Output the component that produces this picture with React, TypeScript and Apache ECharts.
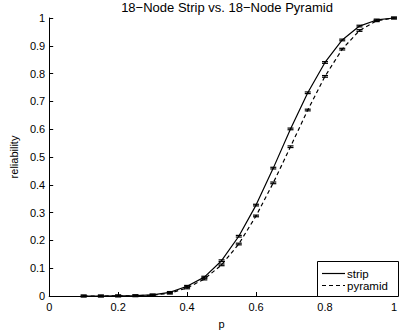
import React, { useEffect, useRef } from "react";
import * as echarts from "echarts";

const pValues = [0.1, 0.15, 0.2, 0.25, 0.3, 0.35, 0.4, 0.45, 0.5, 0.55, 0.6, 0.65, 0.7, 0.75, 0.8, 0.85, 0.9, 0.95, 1.0];
const strip = [0, 0, 0.0005, 0.001, 0.004, 0.013, 0.035, 0.068, 0.127, 0.215, 0.327, 0.46, 0.601, 0.731, 0.84, 0.921, 0.971, 0.993, 1.0];
const pyramid = [0, 0, 0.0003, 0.001, 0.003, 0.01, 0.029, 0.061, 0.112, 0.187, 0.288, 0.407, 0.537, 0.669, 0.79, 0.888, 0.955, 0.99, 1.0];
const errHalf = 0.003;
const titleText = "18\u2212Node Strip vs. 18\u2212Node Pyramid";
const legendNames = ["strip", "pyramid"];

const FONT = "Liberation Sans, Arial, Helvetica, sans-serif";

function errorBars(vals: number[]) {
  return pValues.map((p, i) => [p, vals[i] - errHalf, vals[i] + errHalf]);
}

function renderErr(params: any, api: any) {
  const x = api.value(0);
  const lo = api.coord([x, api.value(1)]);
  const hi = api.coord([x, api.value(2)]);
  const w = 3;
  const style = { stroke: "#000", lineWidth: 1.2 };
  return {
    type: "group",
    children: [
      { type: "line", shape: { x1: lo[0], y1: lo[1], x2: hi[0], y2: hi[1] }, style },
      { type: "line", shape: { x1: lo[0] - w, y1: lo[1], x2: lo[0] + w, y2: lo[1] }, style },
      { type: "line", shape: { x1: hi[0] - w, y1: hi[1], x2: hi[0] + w, y2: hi[1] }, style },
    ],
  };
}

export default function App() {
  const ref = useRef<HTMLDivElement>(null);
  useEffect(() => {
    document.body.style.margin = "0";
    const chart = echarts.init(ref.current!, undefined, { renderer: "svg" });
    const lx = 317, ly = 261, lw = 82, lh = 35;
    const row1 = ly + 12.5, row2 = ly + 24.5;
    chart.setOption({
      animation: false,
      backgroundColor: "#fff",
      textStyle: { fontFamily: FONT },
      title: {
        text: titleText,
        left: 222,
        top: -4,
        textAlign: "center",
        textStyle: { fontSize: 13, fontWeight: "normal", color: "#000", fontFamily: FONT },
      },
      grid: { left: 43, right: 0, top: 18, bottom: 36, containLabel: false },
      graphic: [
        {
          type: "rect",
          shape: { x: lx + 0.5, y: ly + 0.5, width: lw - 1, height: lh },
          style: { fill: "#fff", stroke: "#000", lineWidth: 1 },
          z: 100,
        },
        {
          type: "line",
          shape: { x1: lx + 5, y1: row1, x2: lx + 28, y2: row1 },
          style: { stroke: "#000", lineWidth: 1.2 },
          z: 101,
        },
        {
          type: "line",
          shape: { x1: lx + 5, y1: row2, x2: lx + 28, y2: row2 },
          style: { stroke: "#000", lineWidth: 1.2, lineDash: [4, 3] },
          z: 101,
        },
        {
          type: "text",
          x: lx + 30,
          y: row1,
          style: { text: legendNames[0], fontSize: 11.5, fill: "#000", fontFamily: FONT, verticalAlign: "middle" },
          z: 101,
        },
        {
          type: "text",
          x: lx + 30,
          y: row2,
          style: { text: legendNames[1], fontSize: 11.5, fill: "#000", fontFamily: FONT, verticalAlign: "middle" },
          z: 101,
        },
      ],
      xAxis: {
        type: "value",
        min: 0,
        max: 1,
        interval: 0.2,
        name: "p",
        nameLocation: "middle",
        nameGap: 22,
        nameTextStyle: { fontSize: 11, color: "#000", fontFamily: FONT },
        axisLine: { lineStyle: { color: "#000", width: 1 } },
        axisTick: { inside: true, length: 4, lineStyle: { color: "#000" } },
        axisLabel: { fontSize: 11, color: "#000", margin: 5, fontFamily: FONT },
        splitLine: { show: false },
      },
      yAxis: {
        type: "value",
        min: 0,
        max: 1,
        interval: 0.1,
        name: "reliability",
        nameLocation: "middle",
        nameGap: 29,
        nameTextStyle: { fontSize: 11, color: "#000", fontFamily: FONT },
        axisLine: { show: true, lineStyle: { color: "#000", width: 1 } },
        axisTick: { show: true, inside: true, length: 4, lineStyle: { color: "#000" } },
        axisLabel: { fontSize: 11, color: "#000", margin: 4, fontFamily: FONT },
        splitLine: { show: false },
      },
      series: [
        {
          name: "strip",
          type: "line",
          data: pValues.map((p, i) => [p, strip[i]]),
          symbol: "none",
          lineStyle: { color: "#000", width: 1.2, type: "solid" },
        },
        {
          name: "pyramid",
          type: "line",
          data: pValues.map((p, i) => [p, pyramid[i]]),
          symbol: "none",
          lineStyle: { color: "#000", width: 1.2, type: [4, 3] },
        },
        {
          name: "stripErr",
          type: "custom",
          data: errorBars(strip),
          renderItem: renderErr,
          encode: { x: 0, y: [1, 2] },
          z: 3,
        },
        {
          name: "pyramidErr",
          type: "custom",
          data: errorBars(pyramid),
          renderItem: renderErr,
          encode: { x: 0, y: [1, 2] },
          z: 3,
        },
      ],
    });
    return () => chart.dispose();
  }, []);
  return <div ref={ref} style={{ width: 400, height: 334 }} />;
}
